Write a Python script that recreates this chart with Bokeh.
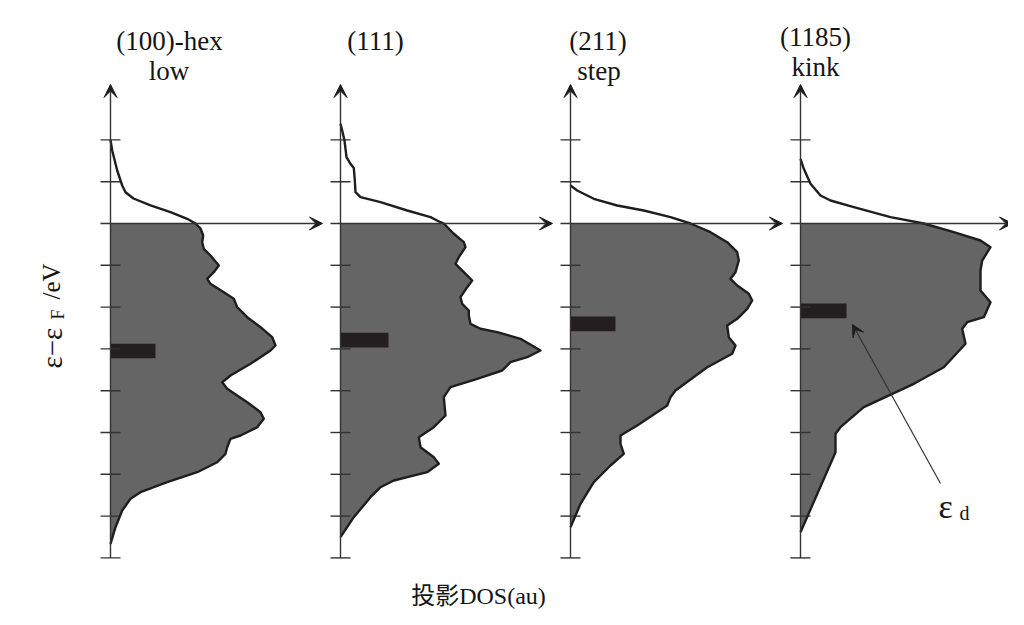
import numpy as np
from bokeh.plotting import figure
from bokeh.models import Range1d, Arrow, VeeHead
from bokeh.core.properties import value
from bokeh.embed import file_html
from bokeh.resources import INLINE

# ---------------- data ----------------
panel_titles = ["(100)-hex", "(111)", "(211)", "(1185)"]
panel_subtitles = ["low", "", "step", "kink"]
tick_energies = [2, 1, -1, -2, -3, -4, -5, -6, -7, -8]

# energy (eV, relative to Fermi level) and projected DOS (au)
hex100_E = [2.0, 1.746, 1.268, 0.909, 0.749, 0.598, 0.431, 0.270, 0.112, 0.0, -0.120, -0.287,
            -0.447, -0.605, -0.766, -1.005, -1.165, -1.323, -1.443, -1.644, -1.801, -2.002,
            -2.242, -2.481, -2.720, -2.919, -3.038, -3.357, -3.636, -3.797, -3.955, -4.275,
            -4.514, -4.672, -4.873, -5.072, -5.151, -5.352, -5.510, -5.711, -5.950, -6.189,
            -6.428, -6.586, -6.866, -7.266, -7.663]
hex100_D = [0.0, 0.17, 0.67, 1.17, 1.5, 2.3, 4.0, 6.0, 7.67, 8.5, 9.0, 9.27,
            9.17, 9.33, 10.0, 10.83, 10.33, 9.67, 10.0, 11.33, 12.33, 12.67,
            13.67, 15.0, 16.17, 16.5, 16.0, 14.0, 12.0, 11.17, 11.67, 13.67,
            15.0, 15.33, 14.67, 13.0, 12.0, 11.67, 11.5, 10.67, 8.67, 5.67,
            3.0, 2.0, 1.17, 0.5, 0.0]

s111_E = [2.385, 2.225, 1.986, 1.586, 1.428, 1.33, 1.029, 0.749, 0.629, 0.510, 0.311, 0.151,
          0.031, 0.0, -0.246, -0.447, -0.567, -0.806, -0.964, -1.165, -1.364, -1.524, -1.763,
          -1.921, -2.081, -2.201, -2.4, -2.519, -2.6, -2.759, -3.038, -3.199, -3.318, -3.517,
          -3.716, -3.916, -4.155, -4.593, -4.873, -5.112, -5.352, -5.591, -5.749, -5.950,
          -6.148, -6.309, -6.548, -7.026, -7.505]
s111_D = [0.0, 0.17, 0.4, 0.6, 1.0, 1.33, 1.43, 1.5, 2.0, 4.0, 6.67, 9.0,
          10.0, 10.33, 11.33, 12.33, 12.5, 11.83, 11.5, 12.33, 13.17, 12.67, 12.0,
          12.17, 12.83, 12.83, 13.0, 14.0, 15.67, 18.0, 20.0, 18.67, 17.0, 16.17,
          13.67, 11.0, 10.33, 10.5, 9.33, 7.83, 8.0, 9.33, 9.83, 8.67,
          5.33, 4.0, 3.0, 1.33, 0.0]

s211_E = [0.909, 0.789, 0.591, 0.431, 0.311, 0.151, 0.0, -0.208, -0.447, -0.687, -0.885,
          -1.165, -1.323, -1.483, -1.682, -1.842, -2.041, -2.280, -2.440, -2.72, -2.919,
          -3.117, -3.438, -3.995, -4.155, -4.354, -4.833, -5.072, -5.271, -5.510, -5.789,
          -6.189, -6.706, -7.266]
s211_D = [0.0, 0.67, 2.33, 4.67, 7.33, 10.0, 12.0, 14.0, 15.67, 16.67, 16.83,
          16.5, 16.0, 16.67, 17.83, 18.17, 17.67, 16.67, 15.67, 15.83, 16.5,
          16.17, 13.67, 10.5, 10.0, 9.67, 6.67, 5.0, 5.0, 5.33, 4.0,
          2.33, 1.0, 0.0]

s1185_E = [1.548, 1.309, 0.950, 0.670, 0.550, 0.390, 0.151, 0.0, -0.208, -0.407, -0.567,
           -0.885, -1.124, -1.603, -1.883, -2.242, -2.361, -2.519, -2.878, -3.438, -3.835,
           -4.395, -4.873, -5.031, -5.471, -7.385]
s1185_D = [0.0, 0.33, 1.0, 2.0, 3.0, 5.33, 9.0, 12.33, 15.33, 18.0, 19.0,
           18.17, 18.0, 18.0, 19.0, 18.33, 16.67, 16.17, 16.5, 14.33, 11.33,
           6.33, 4.0, 3.5, 3.5, 0.0]

d_band_center = [-3.05, -2.79, -2.40, -2.09]   # eV
d_band_marker_width = [4.5, 4.8, 4.5, 4.6]     # au

curves = [(hex100_E, hex100_D), (s111_E, s111_D), (s211_E, s211_D), (s1185_E, s1185_D)]

# ---------------- layout ----------------
W, H = 1008, 609
PX_EV = 41.8          # pixels per eV
Y_FERMI = 223.0       # pixel row of Fermi level
PX_AU = 10.0          # pixels per au


def E_at(Y):
    return (Y_FERMI - Y) / PX_EV


def X_at(X):
    return X / PX_AU


offsets = [X_at(110), X_at(340), X_at(570), X_at(800)]
FILL = "#656565"
INK = "#1e1e1e"
AX = "#333333"
TXT = "#151515"
SERIF = value("Liberation Serif")

p = figure(width=W, height=H, x_range=Range1d(X_at(0), X_at(W)),
           y_range=Range1d(E_at(H), E_at(0)), x_axis_type=None, y_axis_type=None,
           output_backend="svg", toolbar_location=None, min_border=0)
p.grid.visible = False
p.outline_line_color = None
p.background_fill_color = "white"

for i, (E, D) in enumerate(curves):
    off = offsets[i]
    E = np.array(E)
    D = np.array(D)
    below = E <= 0
    xs = [off] + list(off + D[below]) + [off]
    ys = [0.0] + list(E[below]) + [E[below][-1]]
    p.patch(xs, ys, fill_color=FILL, line_color=None)
    c = d_band_center[i]
    p.quad(left=off, right=off + d_band_marker_width[i], bottom=c - 0.175, top=c + 0.175,
           fill_color="#231f20", line_color=None)
    # axes
    p.add_layout(Arrow(end=VeeHead(size=13, fill_color=INK, line_color=INK, line_width=1),
                       x_start=off, y_start=-8.0, x_end=off, y_end=E_at(84),
                       line_color=AX, line_width=1.4))
    p.add_layout(Arrow(end=VeeHead(size=13, fill_color=INK, line_color=INK, line_width=1),
                       x_start=off - 1.0, y_start=0.0, x_end=off + 21.2, y_end=0.0,
                       line_color=AX, line_width=1.4))
    p.segment(x0=[off - 1.0] * len(tick_energies), x1=[off + 1.0] * len(tick_energies),
              y0=tick_energies, y1=tick_energies, line_color=AX, line_width=1.4)
    p.line(off + D, E, line_color=INK, line_width=2.4, line_join="round")

# titles
title_x = [X_at(169), X_at(375), X_at(597.5), X_at(815)]
title_y = [E_at(40), E_at(40), E_at(40), E_at(36.5)]
sub_x = [X_at(168.5), X_at(375), X_at(598.5), X_at(815)]
sub_y = [E_at(70), E_at(70), E_at(70), E_at(66.5)]
p.text(x=title_x, y=title_y, text=panel_titles, text_font=SERIF, text_font_size="27px",
       text_align="center", text_baseline="alphabetic", text_color=TXT)
p.text(x=sub_x, y=sub_y, text=panel_subtitles, text_font=SERIF, text_font_size="27px",
       text_align="center", text_baseline="alphabetic", text_color=TXT)

# y label (rotated)
p.text(x=[X_at(51)], y=[E_at(368)], text=["ε−ε"], angle=np.pi / 2, text_font=SERIF,
       text_font_size="29px", text_align="left", text_baseline="alphabetic", text_color=TXT)
p.text(x=[X_at(57)], y=[E_at(319)], text=["F"], angle=np.pi / 2, text_font=SERIF,
       text_font_size="18px", text_align="left", text_baseline="alphabetic", text_color=TXT)
p.text(x=[X_at(51)], y=[E_at(299)], text=["/eV"], angle=np.pi / 2, text_font=SERIF,
       text_font_size="25px", text_align="left", text_baseline="alphabetic", text_color=TXT)

# x label
p.text(x=[X_at(478)], y=[E_at(595)], text=["投影DOS(au)"],
       text_font=value("'Liberation Serif', 'Noto Sans CJK SC'"), text_font_size="24px",
       text_align="center", text_baseline="alphabetic", text_color=TXT)

# epsilon_d annotation
p.add_layout(Arrow(end=VeeHead(size=12, fill_color=INK, line_color=INK, line_width=1),
                   x_start=X_at(940), y_start=E_at(483), x_end=X_at(852), y_end=E_at(324),
                   line_color=AX, line_width=1.2))
p.text(x=[X_at(938)], y=[E_at(506)], text=["ε"], text_font=SERIF, text_font_size="34px",
       text_align="left", text_baseline="alphabetic", text_color=TXT)
p.text(x=[X_at(959)], y=[E_at(512)], text=["d"], text_font=SERIF, text_font_size="20px",
       text_align="left", text_baseline="alphabetic", text_color=TXT)

open("out.html", "w").write(file_html(p, INLINE))
